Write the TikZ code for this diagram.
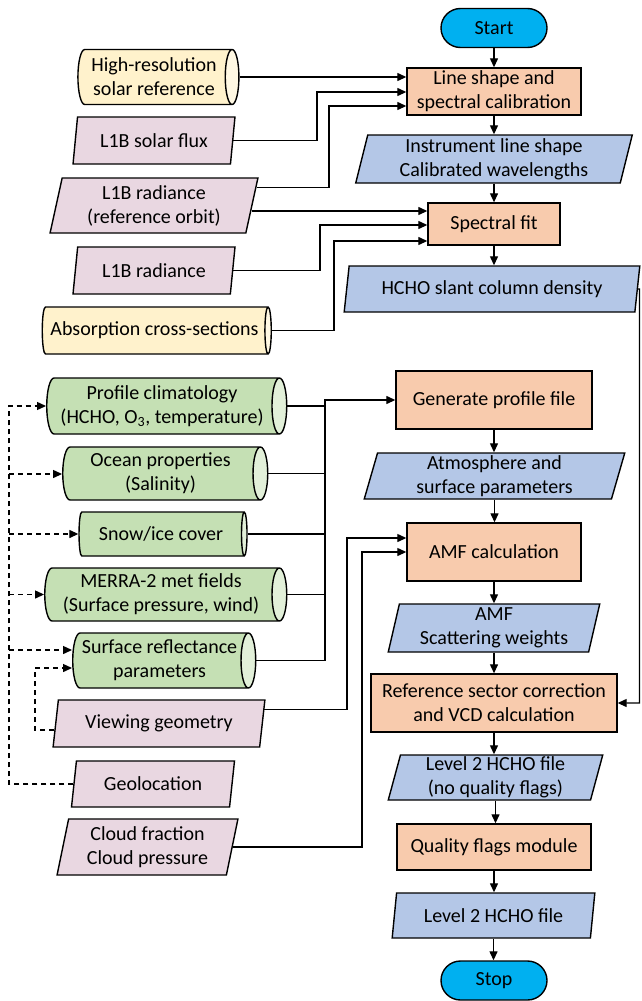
\documentclass[tikz,border=0pt]{standalone}
\usepackage{fontspec}
\setmainfont{Carlito}
\usetikzlibrary{shapes.geometric,arrows.meta,calc}
\definecolor{startc}{HTML}{00B0F0}
\definecolor{procc}{HTML}{F8CBAD}
\definecolor{datac}{HTML}{B4C7E7}
\definecolor{pinkc}{HTML}{E9D7E1}
\definecolor{yelc}{HTML}{FFF2CC}
\definecolor{yelend}{HTML}{FFF8E3}
\definecolor{grnc}{HTML}{C5E0B4}
\definecolor{grnend}{HTML}{E2F0D9}
\begin{document}
\begin{tikzpicture}[x=1pt,y=-1pt,
  font=\fontsize{20}{24}\selectfont,
  base/.style={draw=black, line width=1.4pt, align=center, inner sep=0.5pt, text=black},
  term/.style={base, rectangle, fill=startc, rounded corners=19.5pt, minimum width=106pt, minimum height=39pt},
  proc/.style={base, rectangle, fill=procc},
  datab/.style={base, trapezium, trapezium left angle=78, trapezium right angle=102, trapezium stretches=true, fill=datac},
  pdata/.style={datab, fill=pinkc},
  cylsz/.style n args={2}{minimum height=#1, minimum width=#2},
  ycyl/.style={base, cylinder, aspect=0.35, cylinder uses custom fill, cylinder body fill=yelc, cylinder end fill=yelend},
  gcyl/.style={base, cylinder, aspect=0.35, cylinder uses custom fill, cylinder body fill=grnc, cylinder end fill=grnend},
  arr/.style={line width=1.3pt, -{Triangle[length=9pt,width=8pt]}},
  ln/.style={line width=1.3pt},
  dsh/.style={line width=1.2pt, dash pattern=on 5pt off 4pt}
]
\useasboundingbox (0,0) rectangle (641,1001);

% main column
\node[term] (start) at (494,28) {Start};
\node[proc, minimum width=174pt, minimum height=47pt] (lsc) at (494,91.5) {Line shape and\\spectral calibration};
\node[datab, minimum width=277pt, minimum height=48pt] (ils) at (494,159) {Instrument line shape\\Calibrated wavelengths};
\node[proc, minimum width=132pt, minimum height=42pt] (sf) at (494,224) {Spectral fit};
\node[datab, minimum width=296pt, minimum height=46pt] (scd) at (492,289) {HCHO slant column density};
\node[proc, minimum width=196pt, minimum height=58pt] (gpf) at (494,400) {Generate profile file};
\node[datab, minimum width=261pt, minimum height=46pt] (asp) at (494.5,476) {Atmosphere and\\surface parameters};
\node[proc, minimum width=174pt, minimum height=58pt] (amf) at (494,552) {AMF calculation};
\node[datab, minimum width=212pt, minimum height=48pt] (amfsw) at (494,628) {AMF\\Scattering weights};
\node[proc, minimum width=246pt, minimum height=58pt] (rsc) at (494,703) {Reference sector correction\\and VCD calculation};
\node[datab, minimum width=215pt, minimum height=45pt] (l2nq) at (495.5,777.5) {Level 2 HCHO file\\(no quality flags)};
\node[proc, minimum width=194pt, minimum height=46pt] (qfm) at (494,847) {Quality flags module};
\node[datab, minimum width=203pt, minimum height=45pt] (l2) at (493.5,915.5) {Level 2 HCHO file};
\node[term] (stop) at (494,980.5) {Stop};

% upper left inputs
\node[ycyl, cylsz={161pt}{55pt}] (hr) at (154,77) {High-resolution\\solar reference};
\node[pdata, minimum width=162pt, minimum height=47pt] (flux) at (154,140.5) {L1B solar flux};
\node[pdata, minimum width=208pt, minimum height=55pt] (lro) at (154,205.5) {L1B radiance\\(reference orbit)};
\node[pdata, minimum width=162pt, minimum height=47pt] (lrad) at (154,270.5) {L1B radiance};
\node[ycyl, cylsz={229pt}{47pt}] (abs) at (154.5,330.5) {Absorption cross-sections};

% lower left inputs
\node[gcyl, cylsz={240pt}{56pt}] (prof) at (162,406) {Profile climatology\\(HCHO, O\textsubscript{3}, temperature)};
\node[gcyl, cylsz={205pt}{53pt}] (ocean) at (160.5,473.5) {Ocean properties\\(Salinity)};
\node[gcyl, cylsz={168pt}{44pt}] (snow) at (161,534) {Snow/ice cover};
\node[gcyl, cylsz={242pt}{53pt}] (merra) at (161,594.5) {MERRA-2 met fields\\(Surface pressure, wind)};
\node[gcyl, cylsz={183pt}{55pt}] (srp) at (159.5,660.5) {Surface reflectance\\parameters};
\node[pdata, minimum width=212pt, minimum height=47pt] (vg) at (159,723.5) {Viewing geometry};
\node[pdata, minimum width=163pt, minimum height=46pt] (geo) at (153,784) {Geolocation};
\node[pdata, minimum width=181pt, minimum height=56pt] (cloud) at (147.5,847) {Cloud fraction\\Cloud pressure};

% main chain
\foreach \a/\b in {start/lsc, lsc/ils, ils/sf, sf/scd, gpf/asp, asp/amf, amf/amfsw, amfsw/rsc, rsc/l2nq, l2nq/qfm, qfm/l2, l2/stop}
  \draw[arr] (\a.south) -- (\a.south |- \b.north);

% inputs to line shape calibration
\draw[arr] (hr.east) -- (hr.east -| lsc.west);
\coordinate (b1) at (317,92);
\draw[arr] (flux.east) -| (b1) -- (b1 -| lsc.west);
\coordinate (lro1) at ($(lro.top right corner)+(-2,10)$);
\coordinate (b2) at (329,106);
\draw[arr] (lro1) -| (b2) -- (b2 -| lsc.west);

% inputs to spectral fit
\coordinate (lro2) at ($(lro.east)+(-1,5.5)$);
\draw[arr] (lro2) -- (lro2 -| sf.west);
\coordinate (b3) at (320,225);
\draw[arr] (lrad.east) -| (b3) -- (b3 -| sf.west);
\coordinate (b4) at (334,241);
\draw[arr] (abs.east) -| (b4) -- (b4 -| sf.west);

% SCD to reference sector correction
\coordinate (r1) at (639.5,289);
\draw[arr] (scd.east) -- (r1) |- (rsc.east);

% green bus to generate profile
\coordinate (bus) at (325,400);
\draw[arr] (srp.east) -| (bus) -- (bus -| gpf.west);
\draw[ln] (prof.east) -- (prof.east -| bus);
\draw[ln] (ocean.east) -- (ocean.east -| bus);
\draw[ln] (snow.east) -- (snow.east -| bus);
\draw[ln] (merra.east) -- (merra.east -| bus);

% inputs to AMF calculation
\coordinate (vg1) at ($(vg.top right corner)+(-2,10)$);
\coordinate (c1) at (347,538);
\draw[arr] (vg1) -| (c1) -- (c1 -| amf.west);
\coordinate (c2) at (362,552);
\draw[arr] (cloud.east) -| (c2) -- (c2 -| amf.west);

% dashed geolocation links
\coordinate (d0) at (9,406);
\draw[dsh, arr] (geo.west) -| (d0) -- (d0 -| prof.west);
\coordinate (d1) at (9,474);
\draw[dsh, arr] (d1) -- (d1 -| ocean.west);
\coordinate (d2) at (9,534);
\draw[dsh, arr] (d2) -- (d2 -| snow.west);
\coordinate (d3) at (9,594.5);
\draw[dsh, arr] (d3) -- (d3 -| merra.west);
\coordinate (d4) at (9,650);
\draw[dsh, arr] (d4) -- (d4 -| srp.west);

% dashed viewing geometry link
\coordinate (vgl) at ($(vg.west)+(-1.4,6.5)$);
\coordinate (e0) at (35,668);
\draw[dsh, arr] (vgl) -| (e0) -- (e0 -| srp.west);
\end{tikzpicture}
\end{document}
